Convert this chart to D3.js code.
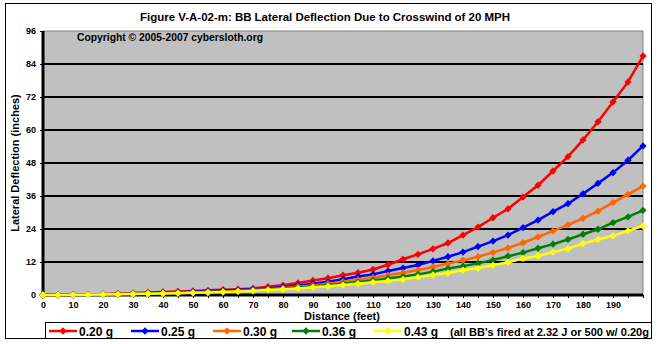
<!DOCTYPE html>
<html>
<head>
<meta charset="utf-8">
<script src="https://cdn.jsdelivr.net/npm/d3@7"></script>
<style>
  body { margin: 0; background: #fff; }
  svg text { font-family: "Liberation Sans", Arial, sans-serif; font-weight: bold; }
</style>
</head>
<body>
<div id="chart"></div>
<script>
// distance in feet, one sample every 5 ft
const distances = d3.range(0, 201, 5);

// lateral deflection (inches) per BB weight
const red020 = [0, 0.02, 0.1, 0.2, 0.3, 0.5, 0.7, 0.9, 1.1, 1.3, 1.5, 1.7, 1.9, 2.1, 2.4, 3.0, 3.6, 4.4, 5.3, 6.1, 7.2,
  8.1, 9.3, 11.0, 13.0, 14.8, 16.8, 18.9, 21.8, 24.7, 28.1, 31.3, 35.6, 39.9, 45.1, 50.3, 56.4, 63.0, 70.2, 77.5, 86.9];
const blue025 = [0, 0.02, 0.1, 0.2, 0.3, 0.4, 0.5, 0.7, 0.9, 1.0, 1.2, 1.4, 1.6, 1.8, 2.1, 2.4, 2.9, 3.5, 4.1, 4.8, 5.7,
  6.7, 7.5, 8.7, 9.8, 10.9, 12.4, 13.9, 15.6, 17.6, 19.6, 21.8, 24.5, 27.2, 30.3, 33.2, 36.8, 40.6, 44.5, 49.0, 54.2];
const orange030 = [0, 0.02, 0.08, 0.15, 0.25, 0.4, 0.5, 0.6, 0.7, 0.8, 1.0, 1.1, 1.3, 1.5, 1.8, 2.1, 2.5, 3.0, 3.5, 4.1, 4.8,
  5.5, 6.3, 7.2, 8.1, 9.1, 10.2, 11.4, 12.6, 13.9, 15.5, 17.1, 19.0, 21.1, 23.3, 25.5, 27.9, 30.5, 33.6, 36.6, 39.6];
const green036 = [0, 0.02, 0.06, 0.12, 0.2, 0.3, 0.4, 0.5, 0.6, 0.7, 0.85, 1.0, 1.2, 1.4, 1.6, 1.9, 2.3, 2.7, 3.1, 3.6, 4.1,
  4.7, 5.3, 6.0, 6.7, 7.5, 8.5, 9.6, 10.5, 11.5, 12.7, 14.1, 15.4, 17.0, 18.5, 20.2, 22.1, 23.9, 26.3, 28.4, 30.8];
const yellow043 = [0, 0.01, 0.05, 0.1, 0.18, 0.25, 0.35, 0.45, 0.55, 0.65, 0.8, 0.9, 1.1, 1.3, 1.5, 1.8, 2.1, 2.4, 2.8, 3.2, 3.6,
  4.1, 4.6, 5.1, 5.7, 6.5, 7.3, 8.0, 9.0, 9.7, 10.8, 11.9, 13.3, 14.2, 15.6, 16.8, 18.7, 20.2, 21.5, 23.3, 25.1];

const seriesNames = ["0.20 g", "0.25 g", "0.30 g", "0.36 g", "0.43 g"];
const seriesColors = ["#ff0000", "#0000ff", "#ff6600", "#008000", "#ffff00"];
const seriesValues = [red020, blue025, orange030, green036, yellow043];

const yTicks = [0, 12, 24, 36, 48, 60, 72, 84, 96];
const xLabelTicks = d3.range(0, 191, 10);

const titleText = "Figure V-A-02-m:  BB Lateral Deflection Due to Crosswind of 20 MPH";
const copyrightText = "Copyright \u00a9 2005-2007 cybersloth.org";
const noteText = "(all BB's fired at 2.32 J or 500 w/ 0.20g";

const W = 658, H = 344;
const svg = d3.select("#chart").append("svg")
  .attr("width", W).attr("height", H);

// outer frame
svg.append("rect")
  .attr("x", 5.5).attr("y", 3.5).attr("width", 646).attr("height", 335)
  .attr("fill", "#fff").attr("stroke", "#000").attr("stroke-width", 1);

const x = d3.scaleLinear().domain([0, 200]).range([43, 643]);
const y = d3.scaleLinear().domain([0, 96]).range([295, 31]);

// plot area
svg.append("rect")
  .attr("x", x(0)).attr("y", y(96))
  .attr("width", x(200) - x(0)).attr("height", y(0) - y(96))
  .attr("fill", "#c0c0c0").attr("stroke", "#808080").attr("stroke-width", 1);

// horizontal gridlines
svg.append("g").selectAll("line")
  .data(yTicks.filter(d => d > 0 && d < 96))
  .join("line")
  .attr("x1", x(0)).attr("x2", x(200))
  .attr("y1", d => y(d)).attr("y2", d => y(d))
  .attr("stroke", "#000").attr("stroke-width", 2);

// y axis
const yAxis = d3.axisLeft(y).tickValues(yTicks).tickSize(3).tickPadding(4);
const gy = svg.append("g").attr("transform", `translate(${x(0)},0)`).call(yAxis);
gy.select(".domain").remove();
gy.selectAll("text").attr("font-size", 9).attr("fill", "#000")
  .style("font-family", "Liberation Sans, Arial, sans-serif").style("font-weight", "bold");

// x axis: ticks every 5 ft, labels every 10 ft
const xAxis = d3.axisBottom(x).tickValues(distances).tickSize(3).tickPadding(4)
  .tickFormat(d => xLabelTicks.includes(d) ? d : "");
const gx = svg.append("g").attr("transform", `translate(0,${y(0)})`).call(xAxis);
gx.select(".domain").remove();
gx.selectAll("text").attr("font-size", 9).attr("fill", "#000")
  .style("font-family", "Liberation Sans, Arial, sans-serif").style("font-weight", "bold");

// heavy axis lines
svg.append("line").attr("x1", x(0)).attr("x2", x(0)).attr("y1", y(96)).attr("y2", y(0) + 1.5)
  .attr("stroke", "#000").attr("stroke-width", 3);
svg.append("line").attr("x1", x(0)).attr("x2", x(200)).attr("y1", y(0)).attr("y2", y(0))
  .attr("stroke", "#000").attr("stroke-width", 3);

// series
const line = d3.line().x((d, i) => x(distances[i])).y(d => y(d));
const marker = d3.symbol().type(d3.symbolDiamond2).size(34);

seriesValues.forEach((vals, k) => {
  const g = svg.append("g");
  g.append("path").datum(vals)
    .attr("d", line).attr("fill", "none")
    .attr("stroke", seriesColors[k]).attr("stroke-width", 2.5);
  g.selectAll("path.m").data(vals).join("path").attr("class", "m")
    .attr("d", marker)
    .attr("transform", (d, i) => `translate(${x(distances[i])},${y(d)})`)
    .attr("fill", seriesColors[k]);
});

// texts
svg.append("text").attr("x", 325).attr("y", 21).attr("text-anchor", "middle")
  .attr("font-size", 11.5).attr("textLength", 370).attr("lengthAdjust", "spacingAndGlyphs")
  .text(titleText);

svg.append("text").attr("x", 77).attr("y", 41)
  .attr("font-size", 10).attr("textLength", 186).attr("lengthAdjust", "spacingAndGlyphs")
  .text(copyrightText);

svg.append("text").attr("x", 342).attr("y", 320).attr("text-anchor", "middle")
  .attr("font-size", 11).text("Distance (feet)");

svg.append("text").attr("transform", `translate(19,${y(48)}) rotate(-90)`)
  .attr("text-anchor", "middle").attr("font-size", 11)
  .text("Lateral Deflection (inches)");

// legend
svg.append("rect").attr("x", 45.5).attr("y", 322.5).attr("width", 606).attr("height", 16)
  .attr("fill", "#fff").attr("stroke", "#000").attr("stroke-width", 1);

const legendX = [49, 131, 213, 292, 374];
const legendY = 331;
const lg = svg.append("g").selectAll("g").data(seriesNames).join("g")
  .attr("transform", (d, i) => `translate(${legendX[i]},${legendY})`);
lg.append("line").attr("x1", 0).attr("x2", 28).attr("y1", 0).attr("y2", 0)
  .attr("stroke", (d, i) => seriesColors[i]).attr("stroke-width", 2.5);
lg.append("path").attr("d", marker).attr("transform", "translate(14,0)")
  .attr("fill", (d, i) => seriesColors[i]);
lg.append("text").attr("x", 30).attr("y", 4.5).attr("font-size", 12).text(d => d);

svg.append("text").attr("x", 450).attr("y", legendY + 4.5).attr("font-size", 11.5)
  .attr("textLength", 199).attr("lengthAdjust", "spacingAndGlyphs")
  .text(noteText);
</script>
</body>
</html>
